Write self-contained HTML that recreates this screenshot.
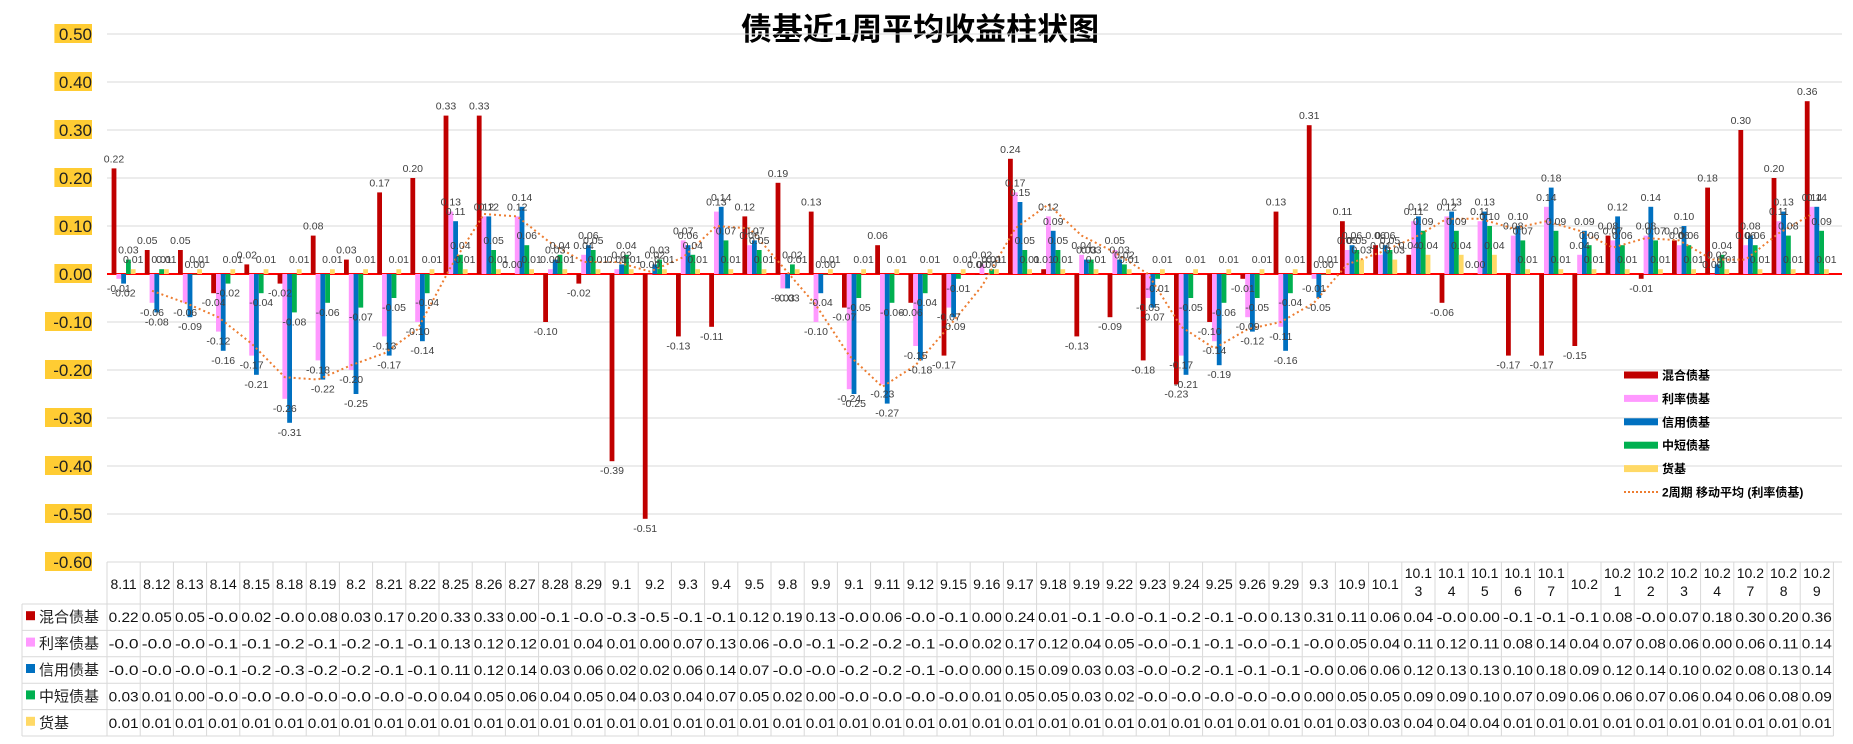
<!DOCTYPE html>
<html><head><meta charset="utf-8"><style>
body{margin:0;background:#fff;width:1853px;height:744px;overflow:hidden}
svg{display:block}
text{font-family:"Liberation Sans","Noto Sans CJK SC",sans-serif}
</style></head><body>
<svg id="chart" width="1853" height="744" viewBox="0 0 1853 744" xmlns="http://www.w3.org/2000/svg">
<text x="920" y="40" text-anchor="middle" font-size="31" font-weight="bold" fill="#000">债基近1周平均收益柱状图</text>
<g id="grid"></g><g id="bars"></g><g id="line"></g><g id="labels"></g><g id="yaxis"></g><g id="table"></g><g id="legend"></g>
</svg>
<script>
const categories=["8.11","8.12","8.13","8.14","8.15","8.18","8.19","8.2","8.21","8.22","8.25","8.26","8.27","8.28","8.29","9.1","9.2","9.3","9.4","9.5","9.8","9.9","9.1","9.11","9.12","9.15","9.16","9.17","9.18","9.19","9.22","9.23","9.24","9.25","9.26","9.29","9.3","10.9","10.1","10.13","10.14","10.15","10.16","10.17","10.2","10.21","10.22","10.23","10.24","10.27","10.28","10.29"];
const hunhe=[0.22,0.05,0.05,-0.04,0.02,-0.02,0.08,0.03,0.17,0.20,0.33,0.33,0.00,-0.10,-0.02,-0.39,-0.51,-0.13,-0.11,0.12,0.19,0.13,-0.07,0.06,-0.06,-0.17,0.00,0.24,0.01,-0.13,-0.09,-0.18,-0.23,-0.10,-0.01,0.13,0.31,0.11,0.06,0.04,-0.06,0.00,-0.17,-0.17,-0.15,0.08,-0.01,0.07,0.18,0.30,0.20,0.36];
const lilv=[-0.01,-0.06,-0.06,-0.12,-0.17,-0.26,-0.18,-0.20,-0.13,-0.10,0.13,0.12,0.12,0.01,0.04,0.01,0.00,0.07,0.13,0.06,-0.03,-0.10,-0.24,-0.23,-0.15,-0.07,0.02,0.17,0.12,0.04,0.05,-0.05,-0.17,-0.14,-0.09,-0.11,-0.01,0.05,0.04,0.11,0.12,0.11,0.08,0.14,0.04,0.07,0.08,0.06,0.00,0.06,0.11,0.14];
const xinyong=[-0.02,-0.08,-0.09,-0.16,-0.21,-0.31,-0.22,-0.25,-0.17,-0.14,0.11,0.12,0.14,0.03,0.06,0.02,0.02,0.06,0.14,0.07,-0.03,-0.04,-0.25,-0.27,-0.18,-0.09,0.00,0.15,0.09,0.03,0.03,-0.07,-0.21,-0.19,-0.12,-0.16,-0.05,0.06,0.06,0.12,0.13,0.13,0.10,0.18,0.09,0.12,0.14,0.10,0.02,0.08,0.13,0.14];
const zhongduan=[0.03,0.01,0.00,-0.02,-0.04,-0.08,-0.06,-0.07,-0.05,-0.04,0.04,0.05,0.06,0.04,0.05,0.04,0.03,0.04,0.07,0.05,0.02,0.00,-0.05,-0.06,-0.04,-0.01,0.01,0.05,0.05,0.03,0.02,-0.01,-0.05,-0.06,-0.05,-0.04,0.00,0.05,0.05,0.09,0.09,0.10,0.07,0.09,0.06,0.06,0.07,0.06,0.04,0.06,0.08,0.09];
const huoji=[0.01,0.01,0.01,0.01,0.01,0.01,0.01,0.01,0.01,0.01,0.01,0.01,0.01,0.01,0.01,0.01,0.01,0.01,0.01,0.01,0.01,0.01,0.01,0.01,0.01,0.01,0.01,0.01,0.01,0.01,0.01,0.01,0.01,0.01,0.01,0.01,0.01,0.03,0.03,0.04,0.04,0.04,0.01,0.01,0.01,0.01,0.01,0.01,0.01,0.01,0.01,0.01];
const yTicks=[0.5,0.4,0.3,0.2,0.1,0,-0.1,-0.2,-0.3,-0.4,-0.5,-0.6];
const seriesNames=["混合债基","利率债基","信用债基","中短债基","货基"];
const seriesData=[hunhe,lilv,xinyong,zhongduan,huoji];
const colors=["#C00000","#FF99FF","#0070C0","#00B050","#FFD966"];
const NS="http://www.w3.org/2000/svg";
const X0=107,CW=33.2,BW=4.8,GOFF=4.6;
const yS=v=>274-v*480;
const xC=i=>X0+i*CW;
function mk(tag,attrs,parent,txt){const e=document.createElementNS(NS,tag);for(const k in attrs)e.setAttribute(k,attrs[k]);if(txt!==undefined)e.textContent=txt;parent.appendChild(e);return e;}
const g=id=>document.getElementById(id);
const n=categories.length, XR=X0+n*CW;
// grid + y labels
yTicks.forEach(t=>{
  if(t!==0){const l=mk('line',{x1:X0,x2:1842,y1:yS(t),y2:yS(t),stroke:'#d9d9d9','stroke-width':1},g('grid'));
  
  }
  const lab=t.toFixed(2);
  const bg=mk('rect',{x:92-lab.length*9.4,y:yS(t)-10,width:lab.length*9.4,height:19,fill:'#FFCC33'},g('yaxis'));
  
  
  const tx=mk('text',{x:92,y:yS(t)+6,'text-anchor':'end','font-size':17,fill:'#222'},g('yaxis'),lab);
  
  
});
// bars
seriesData.forEach((arr,s)=>{
  arr.forEach((v,i)=>{
    const x=xC(i)+GOFF+s*BW, y0=yS(0), y1=yS(v);
    const r=mk('rect',{x:x,y:Math.min(y0,y1),width:BW,height:Math.max(Math.abs(y1-y0),0.5),fill:colors[s]},g('bars'));
    
    
    const ly=v>=0?y1-6:y1+13;
    const t=mk('text',{x:x+BW/2,y:ly,'text-anchor':'middle','font-size':10.5,fill:'#404040'},g('labels'),v.toFixed(2));
    
    
  });
});
// zero line
const z=mk('line',{x1:X0,x2:1842,y1:yS(0),y2:yS(0),stroke:'#FF0000','stroke-width':2},g('grid'));


// moving average
let pts=[];
for(let i=1;i<n;i++){pts.push((xC(i)+GOFF+1.5*BW).toFixed(1)+','+yS((lilv[i]+lilv[i-1])/2).toFixed(1));}
const pl=mk('polyline',{points:pts.join(' '),fill:'none',stroke:'#ED7D31','stroke-width':2,'stroke-dasharray':'2,3'},g('line'));


// table
const T=g('table');
const rowsY=[604,630.4,656.8,683.2,709.6,736];
const tg='#d9d9d9';
[562].concat(rowsY).forEach(y=>{const l=mk('line',{x1:(y===562?X0:22),x2:XR,y1:y,y2:y,stroke:tg},T);});
for(let i=0;i<=n;i++){const l=mk('line',{x1:xC(i),x2:xC(i),y1:562,y2:736,stroke:tg},T);}
const ll=mk('line',{x1:22,x2:22,y1:604,y2:736,stroke:tg},T);
categories.forEach((c,i)=>{
  const cx=xC(i)+CW/2;
  if(c.length>4){
    const a=mk('text',{x:cx,y:578,'text-anchor':'middle','font-size':14,fill:'#111'},T,c.slice(0,4));
    
    const b=mk('text',{x:cx,y:596,'text-anchor':'middle','font-size':14,fill:'#111'},T,c.slice(4));
    
  } else {
    const a=mk('text',{x:cx,y:589,'text-anchor':'middle','font-size':14,fill:'#111'},T,c);
    
  }
});
function trunc(v){const s=(Math.trunc(v*100)/100);if(v<0&&Math.abs(v)<0.995){return '-'+(Math.floor(Math.abs(v)*10)/10).toFixed(1);}return v.toFixed(2);}
seriesData.forEach((arr,s)=>{
  const cy=(rowsY[s]+rowsY[s+1])/2+5;
  const sq=mk('rect',{x:26,y:cy-11,width:9,height:9,fill:colors[s]},T);
  
  const nm=mk('text',{x:39,y:cy,'font-size':15,fill:'#222'},T,seriesNames[s]);
  
  arr.forEach((v,i)=>{
    const t=mk('text',{x:xC(i)+CW/2,y:cy,'text-anchor':'middle','font-size':13.5,fill:'#111','textLength':30,'lengthAdjust':'spacingAndGlyphs'},T,trunc(v));
    
  });
});
// legend
const L=g('legend');
seriesNames.concat(["2周期 移动平均 (利率债基)"]).forEach((nm,k)=>{
  const y=375+k*23.4;
  if(k<5){const r=mk('rect',{x:1624,y:y-3.5,width:34,height:7,fill:colors[k]},L);}
  else{const l=mk('line',{x1:1624,x2:1658,y1:y,y2:y,stroke:'#ED7D31','stroke-width':2,'stroke-dasharray':'2,2'},L);}
  const t=mk('text',{x:1662,y:y+4.5,'font-size':12,'font-weight':'bold',fill:'#000'},L,nm);
  
});
</script>
</body></html>
